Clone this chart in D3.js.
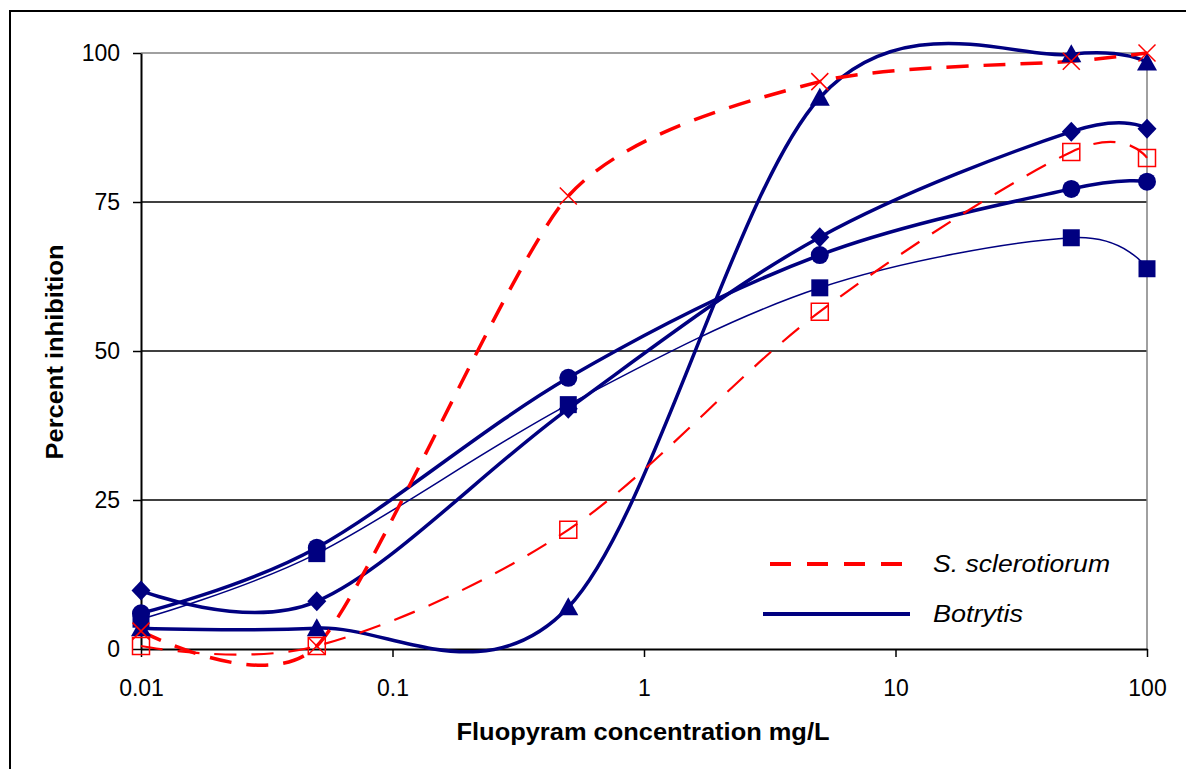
<!DOCTYPE html>
<html>
<head>
<meta charset="utf-8">
<script src="https://cdn.jsdelivr.net/npm/d3@7"></script>
<style>
  body { margin: 0; background: #fff; }
  text { font-family: "Liberation Sans", Arial, sans-serif; fill: #000; }
</style>
</head>
<body>
<svg id="chart" width="1186" height="769"></svg>
<script>
// Fluopyram concentrations (mg/L), shared by every series
const concentrations = [0.01, 0.05, 0.5, 5, 50, 100];

// S. sclerotiorum isolates (red, dashed)
const scleroCross = [3, 0.5, 76, 95.2, 98.6, 100];
const scleroSquare = [0.5, 0.5, 20, 56.6, 83.4, 82.4];

// Botrytis isolates (navy, solid)
const botTriangle = [3.5, 3.5, 7, 92.5, 99.8, 98.4];
const botDiamond = [9.8, 8, 40.3, 69.1, 86.8, 87.3];
const botCircle = [6, 17, 45.5, 66.1, 77.2, 78.4];
const botSquare = [5, 16, 41, 60.6, 69, 63.8];

const xTicks = [0.01, 0.1, 1, 10, 100];
const yTicks = [0, 25, 50, 75, 100];
const legendLabels = ["S. sclerotiorum", "Botrytis"];

const RED = "#ff0000";
const NAVY = "#000080";

const svg = d3.select("#chart");

// Outer chart frame
svg.append("rect")
  .attr("x", 10).attr("y", 11)
  .attr("width", 1190).attr("height", 780)
  .attr("fill", "none").attr("stroke", "#000").attr("stroke-width", 2);

const MARGIN = {LEFT: 141, TOP: 53, RIGHT: 1147, BOTTOM: 649};

const x = d3.scaleLog().domain([0.01, 100]).range([MARGIN.LEFT, MARGIN.RIGHT]);
const y = d3.scaleLinear().domain([0, 100]).range([MARGIN.BOTTOM, MARGIN.TOP]);

// Horizontal gridlines (top one gray like the plot-area border)
svg.append("g").selectAll("line")
  .data(yTicks.filter((d) => d > 0))
  .enter().append("line")
  .attr("x1", MARGIN.LEFT).attr("x2", MARGIN.RIGHT)
  .attr("y1", (d) => y(d)).attr("y2", (d) => y(d))
  .attr("stroke", (d) => d === 100 ? "#808080" : "#000")
  .attr("stroke-width", 1.5);

// Right border of plot area
svg.append("line")
  .attr("x1", MARGIN.RIGHT).attr("x2", MARGIN.RIGHT)
  .attr("y1", MARGIN.TOP).attr("y2", MARGIN.BOTTOM)
  .attr("stroke", "#808080").attr("stroke-width", 1.5);

// Axes
const xAxis = svg.append("g")
  .attr("transform", "translate(0," + MARGIN.BOTTOM + ")")
  .call(d3.axisBottom(x).tickValues(xTicks).tickFormat((d) => String(d)).tickSize(8).tickSizeOuter(0));
xAxis.select(".domain").attr("stroke", "#000").attr("stroke-width", 2);
xAxis.selectAll(".tick line").attr("stroke-width", 1.5);
xAxis.selectAll(".tick text")
  .attr("y", 39).attr("dy", "0.35em")
  .attr("font-size", 23).attr("fill", "#000")
  .style("font-family", "'Liberation Sans', Arial, sans-serif");

const yAxis = svg.append("g")
  .attr("transform", "translate(" + MARGIN.LEFT + ",0)")
  .call(d3.axisLeft(y).tickValues(yTicks).tickSize(8).tickSizeOuter(0));
yAxis.select(".domain").attr("stroke", "#000").attr("stroke-width", 2);
yAxis.selectAll(".tick line").attr("stroke-width", 1.5);
yAxis.selectAll(".tick text")
  .attr("x", -21)
  .attr("font-size", 23).attr("fill", "#000")
  .style("font-family", "'Liberation Sans', Arial, sans-serif");

// Axis titles
svg.append("text")
  .attr("x", 643).attr("y", 740)
  .attr("text-anchor", "middle")
  .attr("font-size", 24).attr("font-weight", "bold")
  .attr("textLength", 373).attr("lengthAdjust", "spacingAndGlyphs")
  .text("Fluopyram concentration mg/L");

svg.append("text")
  .attr("transform", "translate(63,352) rotate(-90)")
  .attr("text-anchor", "middle")
  .attr("font-size", 24).attr("font-weight", "bold")
  .attr("textLength", 215).attr("lengthAdjust", "spacingAndGlyphs")
  .text("Percent inhibition");

// Series definitions (tension tweaks the smoothing a little per series)
const series = [
  {values: botSquare, color: NAVY, width: 1.5, dash: null, marker: "square", tension: 0},
  {values: botCircle, color: NAVY, width: 3.5, dash: null, marker: "circle", tension: 0},
  {values: botDiamond, color: NAVY, width: 3.5, dash: null, marker: "diamond", tension: 0},
  {values: botTriangle, color: NAVY, width: 3.5, dash: null, marker: "triangle", tension: 0},
  {values: scleroSquare, color: RED, width: 2.2, dash: "22,15", marker: "openSquare", tension: 0},
  {values: scleroCross, color: RED, width: 3.5, dash: "22,15", marker: "cross", tension: 0.3}
];

const plot = svg.append("g");

series.forEach((s) => {
  const pts = concentrations.map((c, i) => ({c: c, v: s.values[i]}));
  const smoothLine = d3.line()
    .x((d) => x(d.c))
    .y((d) => y(d.v))
    .curve(d3.curveCardinal.tension(s.tension));
  plot.append("path")
    .datum(pts)
    .attr("d", smoothLine)
    .attr("fill", "none")
    .attr("stroke", s.color)
    .attr("stroke-width", s.width)
    .attr("stroke-dasharray", s.dash);
});

// Marker shapes, drawn around (0,0)
function markerPath(type) {
  const p = d3.path();
  if (type === "square" || type === "openSquare") {
    p.rect(-8.5, -8.5, 17, 17);
  } else if (type === "circle") {
    p.arc(0, 0, 9, 0, 2 * Math.PI);
  } else if (type === "diamond") {
    p.moveTo(0, -10); p.lineTo(9.5, 0); p.lineTo(0, 10); p.lineTo(-9.5, 0); p.closePath();
  } else if (type === "triangle") {
    p.moveTo(0, -10); p.lineTo(10, 8); p.lineTo(-10, 8); p.closePath();
  } else if (type === "cross") {
    p.moveTo(-8.5, -8.5); p.lineTo(8.5, 8.5);
    p.moveTo(8.5, -8.5); p.lineTo(-8.5, 8.5);
  }
  return p.toString();
}

series.forEach((s) => {
  const pts = concentrations.map((c, i) => ({c: c, v: s.values[i]}));
  const hollow = s.marker === "openSquare" || s.marker === "cross";
  plot.append("g").selectAll("path")
    .data(pts)
    .enter().append("path")
    .attr("transform", (d) => "translate(" + x(d.c) + "," + y(d.v) + ")")
    .attr("d", markerPath(s.marker))
    .attr("fill", hollow ? "none" : s.color)
    .attr("stroke", hollow ? s.color : "none")
    .attr("stroke-width", 1.5);
});

// Legend
const legend = svg.append("g");
const legendItems = [
  {label: legendLabels[0], color: RED, dash: "21,16", x1: 770, x2: 903, y: 564, len: 177},
  {label: legendLabels[1], color: NAVY, dash: null, x1: 763, x2: 910, y: 614, len: 90}
];
legendItems.forEach((d) => {
  legend.append("line")
    .attr("x1", d.x1).attr("x2", d.x2)
    .attr("y1", d.y).attr("y2", d.y)
    .attr("stroke", d.color).attr("stroke-width", 4)
    .attr("stroke-dasharray", d.dash);
  legend.append("text")
    .attr("x", 933).attr("y", d.y).attr("dy", "0.35em")
    .attr("font-size", 24).attr("font-style", "italic")
    .attr("textLength", d.len).attr("lengthAdjust", "spacingAndGlyphs")
    .text(d.label);
});
</script>
</body>
</html>
